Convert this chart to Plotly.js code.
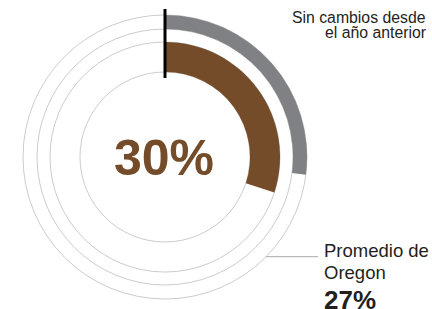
<!DOCTYPE html>
<html>
<head>
<meta charset="utf-8">
<script src="https://cdn.plot.ly/plotly-3.0.1.min.js"></script>
<style>html,body{margin:0;padding:0;background:#fff;}#chart{width:432px;height:309px;}</style>
</head>
<body>
<div id="chart"></div>
<script>
// ---- data ----
const ringNames = ['Escuela', 'Promedio de Oregon'];
const ringValues = [30, 27];          // percent
const centerLabel = '30%';
const oregonLabel = '27%';
const noteLines = ['Sin cambios desde', 'el año anterior'];
const oregonLines = ['Promedio de', 'Oregon'];

// ---- styles ----
const BROWN = '#754C29';
const GRAY = '#808184';
const GRID = '#cccccc';
const TEXT = '#231f20';
const FONT = 'Liberation Sans, Arial, Helvetica, sans-serif';
const W = 432, H = 309;

// ring geometry in radial units
const innerRing = {base: 85, thick: 30};
const outerRing = {base: 128, thick: 14};

function arcTrace(val, ring, color, name) {
  const deg = val * 3.6;
  return {
    type: 'barpolar',
    name: name,
    r: [ring.thick],
    base: [ring.base],
    theta: [deg / 2],
    width: [deg],
    marker: {color: color, line: {width: 0}},
    hoverinfo: 'skip',
    showlegend: false
  };
}

const data = [
  arcTrace(ringValues[0], innerRing, BROWN, ringNames[0]),
  arcTrace(ringValues[1], outerRing, GRAY, ringNames[1]),
  {
    type: 'scatterpolar',
    r: [79, 148],
    theta: [0, 0],
    mode: 'lines',
    line: {color: '#000', width: 3},
    cliponaxis: false,
    hoverinfo: 'skip',
    showlegend: false
  }
];

const px = x => x / W;
const py = y => (H - y) / H;

function note(text, x, y, xanchor, size) {
  return {text: text, xref: 'paper', yref: 'paper', x: px(x), y: py(y),
          xanchor: xanchor, yanchor: 'middle', showarrow: false, borderpad: 0,
          font: {size: size, color: TEXT, family: FONT}};
}

const layout = {
  width: W, height: H, autosize: false,
  margin: {l: 0, r: 0, t: 0, b: 0},
  paper_bgcolor: '#fff',
  font: {family: FONT, color: TEXT},
  polar: {
    domain: {x: [px(17), px(313)], y: [py(305), py(9)]},
    bgcolor: 'rgba(0,0,0,0)',
    hole: 0,
    radialaxis: {
      range: [0, 148],
      tickvals: [85, 115, 128, 142],
      showticklabels: false, ticks: '',
      showline: false,
      gridcolor: GRID, gridwidth: 1
    },
    angularaxis: {
      rotation: 90, direction: 'clockwise',
      showgrid: false, showticklabels: false, ticks: '',
      showline: false
    }
  },
  shapes: [{
    type: 'line', xref: 'paper', yref: 'paper',
    x0: px(266), x1: px(318), y0: py(256.7), y1: py(256.7),
    line: {color: '#aaaaaa', width: 1}
  }],
  annotations: [
    {text: '<b>' + centerLabel + '</b>', xref: 'paper', yref: 'paper',
     x: px(163.5), y: py(157.7), xanchor: 'center', yanchor: 'middle',
     showarrow: false, font: {size: 50, color: BROWN, family: FONT}},
    note(noteLines[0], 427, 17.8, 'right', 15.8),
    note(noteLines[1], 427, 32.3, 'right', 15.8),
    note(oregonLines[0], 323, 250.6, 'left', 18.5),
    note(oregonLines[1], 323, 272.6, 'left', 18.5),
    note('<b>' + oregonLabel + '</b>', 323, 299.6, 'left', 26)
  ]
};

Plotly.newPlot('chart', data, layout, {displayModeBar: false, staticPlot: true});
</script>
</body>
</html>
